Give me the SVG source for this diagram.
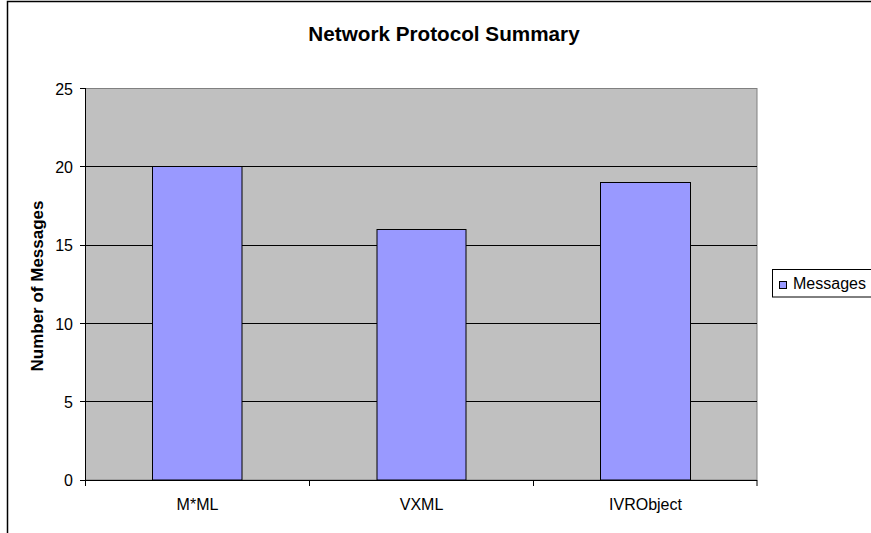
<svg xmlns="http://www.w3.org/2000/svg" width="871" height="533" viewBox="0 0 871 533">
<style>
  text { font-family: "Liberation Sans", Arial, sans-serif; fill: #000; }
  .tick { font-size: 16px; text-anchor: end; }
  .cat { font-size: 16px; text-anchor: middle; }
  .bar { fill: #9999FF; stroke: #000; stroke-width: 1; }
  .grid { stroke: #000; stroke-width: 1; }
  .axis { stroke: #000; stroke-width: 1; fill: none; }
</style>
<rect x="0" y="0" width="871" height="533" fill="#fff"/>
<rect x="7.5" y="1.5" width="900" height="560" fill="#fff" stroke="#000" stroke-width="1.5"/>
<text id="title" x="444" y="40.5" font-size="20.7" font-weight="bold" text-anchor="middle">Network Protocol Summary</text>
<g id="plot">
  <rect x="85.5" y="88.5" width="671.5" height="391.5" fill="#C0C0C0" stroke="#808080" stroke-width="1"/>
  <g class="grid">
    <line x1="85" y1="88.5" x2="757" y2="88.5" stroke="#808080"/>
    <line x1="85" y1="166.5" x2="757" y2="166.5"/>
    <line x1="85" y1="245.5" x2="757" y2="245.5"/>
    <line x1="85" y1="323.5" x2="757" y2="323.5"/>
    <line x1="85" y1="401.5" x2="757" y2="401.5"/>
  </g>
</g>
<g id="bar-mml"><rect class="bar" x="152.5" y="166.5" width="89.5" height="313.5"/></g>
<g id="bar-vxml"><rect class="bar" x="377" y="229.5" width="89" height="250.5"/></g>
<g id="bar-ivrobject"><rect class="bar" x="600.5" y="182.5" width="90" height="297.5"/></g>
<g id="axes">
  <path class="axis" d="M85.5 88 V480.5 H757"/>
  <path class="axis" d="M80 88.5 H85.5 M80 166.5 H85.5 M80 245.5 H85.5 M80 323.5 H85.5 M80 401.5 H85.5 M80 480.5 H85.5"/>
  <path class="axis" d="M85.5 480 V486 M309.5 480 V486 M533.5 480 V486 M757 480 V486"/>
</g>
<g id="y-labels">
  <text class="tick" x="73" y="94.5">25</text>
  <text class="tick" x="73" y="172.5">20</text>
  <text class="tick" x="73" y="251">15</text>
  <text class="tick" x="73" y="329.5">10</text>
  <text class="tick" x="73" y="407.5">5</text>
  <text class="tick" x="73" y="486">0</text>
</g>
<text id="y-title" transform="translate(43 286) rotate(-90)" font-size="17" font-weight="bold" text-anchor="middle">Number of Messages</text>
<g id="x-labels">
  <text class="cat" x="197.5" y="509.5">M*ML</text>
  <text class="cat" x="421.5" y="509.5">VXML</text>
  <text class="cat" x="645.5" y="509.5">IVRObject</text>
</g>
<g id="legend">
  <rect x="772.5" y="269.5" width="120" height="27.5" fill="#fff" stroke="#000" stroke-width="1"/>
  <rect x="779.5" y="281.5" width="7" height="7" fill="#9999FF" stroke="#000" stroke-width="1"/>
  <text x="793" y="288.5" font-size="16">Messages</text>
</g>
</svg>
